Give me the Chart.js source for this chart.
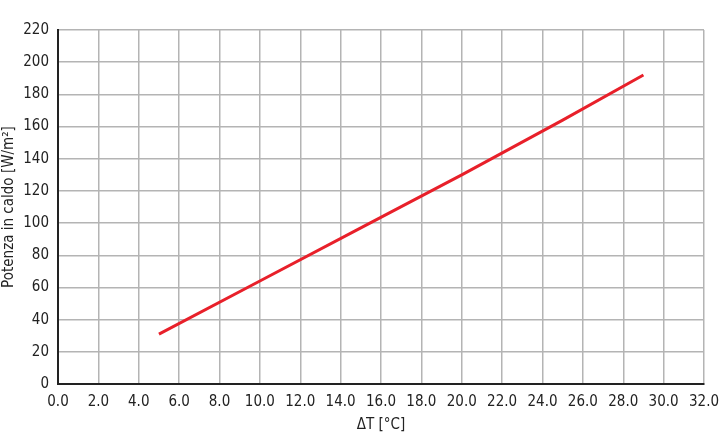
<!DOCTYPE html>
<html>
<head>
<meta charset="utf-8">
<script src="https://cdn.jsdelivr.net/npm/chart.js@4.4.1/dist/chart.umd.min.js"></script>
<style>
    html, body { margin: 0; padding: 0; background: #fff; }
    #wrap { width: 724px; height: 447px; }
</style>
</head>
<body>
<div id="wrap"><canvas id="chart" width="724" height="447"></canvas></div>
<script>
// dati
const deltaT = [5.0, 10.0, 15.0, 20.0, 25.0, 29.0];
const potenza = [31, 64, 97, 130, 164, 192];

const FONT = '"DejaVu Sans Condensed", "Liberation Sans", sans-serif';
const gridColor = '#b4b4b4';
const axisColor = '#222';

new Chart(document.getElementById('chart'), {
    type: 'line',
    data: {
        datasets: [{
            data: deltaT.map((x, i) => ({ x: x, y: potenza[i] })),
            borderColor: '#e8202a',
            borderWidth: 3,
            pointRadius: 0,
            tension: 0
        }]
    },
    options: {
        responsive: false,
        animation: false,
        layout: { padding: { top: 30, right: 0, left: 0, bottom: 13 } },
        plugins: { legend: { display: false }, tooltip: { enabled: false } },
        scales: {
            x: {
                type: 'linear',
                min: 0, max: 32,
                afterFit: s => { s.paddingRight = 20; },
                ticks: {
                    stepSize: 2,
                    callback: v => v.toFixed(1),
                    color: axisColor,
                    font: { family: FONT, size: 15 },
                    padding: 9,
                    maxRotation: 0
                },
                grid: { color: gridColor, lineWidth: 1.5, drawTicks: false },
                border: { color: axisColor, width: 2 },
                title: {
                    display: true,
                    text: 'ΔT [°C]',
                    color: axisColor,
                    font: { family: FONT, size: 15 },
                    padding: { top: -4, bottom: 0 }
                }
            },
            y: {
                min: 0, max: 220,
                afterFit: s => { s.width = 58; },
                ticks: {
                    stepSize: 20,
                    color: axisColor,
                    font: { family: FONT, size: 15 },
                    padding: 9
                },
                grid: { color: gridColor, lineWidth: 1.5, drawTicks: false },
                border: { color: axisColor, width: 2 },
                title: {
                    display: true,
                    text: 'Potenza in caldo [W/m²]',
                    color: axisColor,
                    font: { family: FONT, size: 15 },
                    padding: { top: 0, bottom: 0 }
                }
            }
        }
    }
});
</script>
</body>
</html>
